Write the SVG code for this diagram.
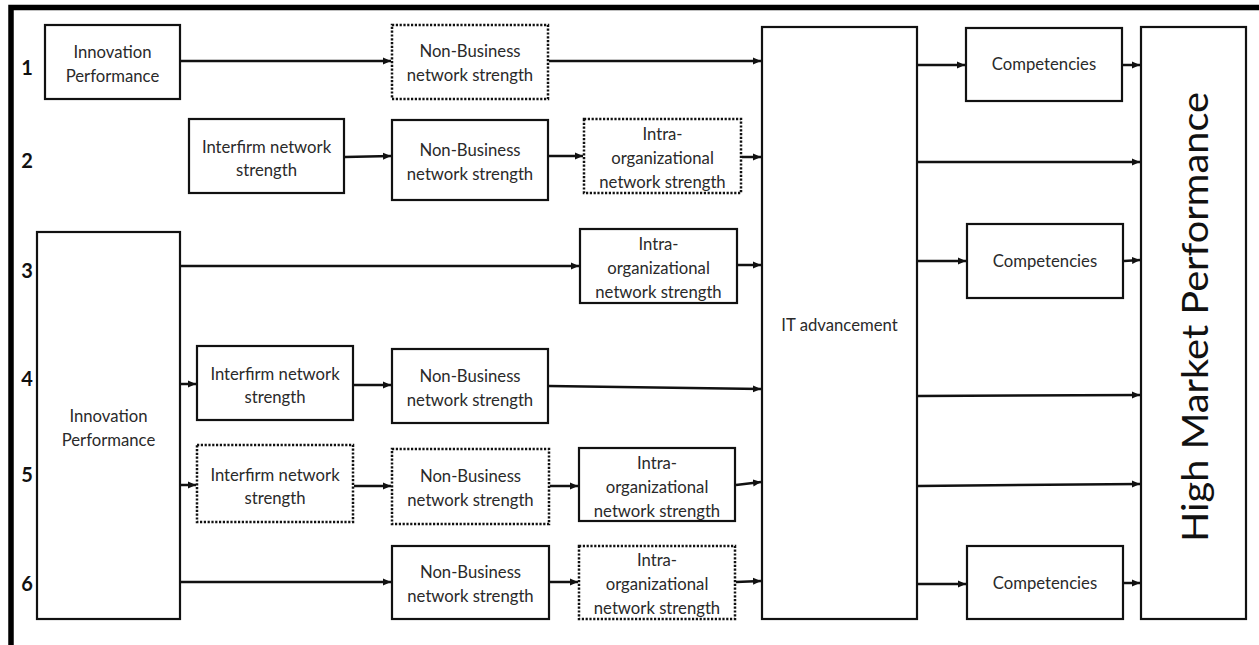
<svg xmlns="http://www.w3.org/2000/svg" width="1259" height="645" viewBox="0 0 1259 645">
<style>
  .box { fill: #ffffff; stroke: #111111; stroke-width: 2.2; }
  .dot { fill: #ffffff; stroke: #111111; stroke-width: 2.5; stroke-dasharray: 2.2 1.6; }
  .t { font-family: "Lato", "Liberation Sans", sans-serif; font-size: 16.7px; fill: #2a2a2a; text-anchor: middle; }
  .num { font-family: "Lato", "Liberation Sans", sans-serif; font-size: 20px; font-weight: bold; fill: #111111; text-anchor: middle; }
  .big { font-family: "Lato", "Liberation Sans", sans-serif; font-size: 36px; fill: #111111; text-anchor: middle; }
  .c line { stroke: #111111; stroke-width: 2.5; marker-end: url(#ah); }
</style>
<defs>
  <marker id="ah" markerUnits="userSpaceOnUse" markerWidth="9" markerHeight="8" refX="8" refY="4" orient="auto">
    <path d="M0,0.5 L8,4 L0,7.5 z" fill="#111111"/>
  </marker>
</defs>
<rect x="0" y="0" width="1259" height="645" fill="#ffffff"/>
<path d="M11,645 V7.5 H1259" fill="none" stroke="#000000" stroke-width="5.5"/>

<g id="row-labels">
  <text class="num" x="27" y="75">1</text>
  <text class="num" x="27" y="168">2</text>
  <text class="num" x="27" y="278">3</text>
  <text class="num" x="27" y="386">4</text>
  <text class="num" x="27" y="482">5</text>
  <text class="num" x="27" y="591">6</text>
</g>

<g id="innovation-1">
  <rect class="box" x="45" y="25" width="135" height="74"/>
  <text class="t" x="112.5" y="58">Innovation</text>
  <text class="t" x="112.5" y="82">Performance</text>
</g>
<g id="nonbusiness-1">
  <rect class="dot" x="392" y="25" width="156" height="74"/>
  <text class="t" x="470" y="57">Non-Business</text>
  <text class="t" x="470" y="81">network strength</text>
</g>
<g id="it-advancement">
  <rect class="box" x="762" y="27" width="155" height="592"/>
  <text class="t" x="839.5" y="331">IT advancement</text>
</g>
<g id="competencies-1">
  <rect class="box" x="966" y="28" width="156" height="73"/>
  <text class="t" x="1044" y="70">Competencies</text>
</g>
<g id="high-market-performance">
  <rect class="box" x="1141" y="27" width="105" height="592"/>
  <text class="big" transform="translate(1208,317) rotate(-90)" textLength="450" lengthAdjust="spacingAndGlyphs">High Market Performance</text>
</g>

<g id="interfirm-2">
  <rect class="box" x="189" y="119" width="155" height="74"/>
  <text class="t" x="266.5" y="153">Interfirm network</text>
  <text class="t" x="266.5" y="176">strength</text>
</g>
<g id="nonbusiness-2">
  <rect class="box" x="392" y="120" width="156" height="80"/>
  <text class="t" x="470" y="156">Non-Business</text>
  <text class="t" x="470" y="180">network strength</text>
</g>
<g id="intra-2">
  <rect class="dot" x="584" y="119" width="157" height="74"/>
  <text class="t" x="662.5" y="140">Intra-</text>
  <text class="t" x="662.5" y="164">organizational</text>
  <text class="t" x="662.5" y="188">network strength</text>
</g>

<g id="innovation-big">
  <rect class="box" x="37" y="232" width="143" height="387"/>
  <text class="t" x="108.5" y="422">Innovation</text>
  <text class="t" x="108.5" y="446">Performance</text>
</g>
<g id="intra-3">
  <rect class="box" x="580" y="229" width="157" height="74"/>
  <text class="t" x="658.5" y="250">Intra-</text>
  <text class="t" x="658.5" y="274">organizational</text>
  <text class="t" x="658.5" y="298">network strength</text>
</g>
<g id="competencies-2">
  <rect class="box" x="967" y="224" width="156" height="74"/>
  <text class="t" x="1045" y="267">Competencies</text>
</g>

<g id="interfirm-4">
  <rect class="box" x="197" y="346" width="156" height="74"/>
  <text class="t" x="275" y="380">Interfirm network</text>
  <text class="t" x="275" y="403">strength</text>
</g>
<g id="nonbusiness-4">
  <rect class="box" x="392" y="349" width="156" height="74"/>
  <text class="t" x="470" y="382">Non-Business</text>
  <text class="t" x="470" y="406">network strength</text>
</g>

<g id="interfirm-5">
  <rect class="dot" x="197" y="445" width="156" height="77"/>
  <text class="t" x="275" y="481">Interfirm network</text>
  <text class="t" x="275" y="504">strength</text>
</g>
<g id="nonbusiness-5">
  <rect class="dot" x="392" y="449" width="157" height="75"/>
  <text class="t" x="470.5" y="482">Non-Business</text>
  <text class="t" x="470.5" y="506">network strength</text>
</g>
<g id="intra-5">
  <rect class="box" x="579" y="448" width="156" height="73"/>
  <text class="t" x="657" y="469">Intra-</text>
  <text class="t" x="657" y="493">organizational</text>
  <text class="t" x="657" y="517">network strength</text>
</g>

<g id="nonbusiness-6">
  <rect class="box" x="392" y="546" width="157" height="73"/>
  <text class="t" x="470.5" y="578">Non-Business</text>
  <text class="t" x="470.5" y="602">network strength</text>
</g>
<g id="intra-6">
  <rect class="dot" x="579" y="546" width="156" height="73"/>
  <text class="t" x="657" y="566">Intra-</text>
  <text class="t" x="657" y="590">organizational</text>
  <text class="t" x="657" y="614">network strength</text>
</g>
<g id="competencies-3">
  <rect class="box" x="967" y="546" width="156" height="73"/>
  <text class="t" x="1045" y="589">Competencies</text>
</g>

<g id="connectors" class="c">
  <line x1="181" y1="61" x2="391" y2="61"/>
  <line x1="549" y1="61" x2="761" y2="61"/>
  <line x1="918" y1="65" x2="965" y2="65"/>
  <line x1="1123" y1="65" x2="1140" y2="65"/>
  <line x1="345" y1="157" x2="391" y2="156"/>
  <line x1="549" y1="156" x2="583" y2="156"/>
  <line x1="742" y1="157" x2="761" y2="157"/>
  <line x1="918" y1="162" x2="1140" y2="162"/>
  <line x1="181" y1="266" x2="579" y2="266"/>
  <line x1="738" y1="265" x2="761" y2="265"/>
  <line x1="918" y1="261" x2="966" y2="261"/>
  <line x1="1124" y1="261" x2="1140" y2="260"/>
  <line x1="181" y1="384" x2="196" y2="384"/>
  <line x1="354" y1="385" x2="391" y2="385"/>
  <line x1="549" y1="386" x2="761" y2="389"/>
  <line x1="918" y1="396" x2="1140" y2="395"/>
  <line x1="181" y1="485" x2="196" y2="485"/>
  <line x1="354" y1="486" x2="391" y2="486"/>
  <line x1="550" y1="486" x2="578" y2="486"/>
  <line x1="736" y1="485" x2="761" y2="482"/>
  <line x1="918" y1="486" x2="1140" y2="484"/>
  <line x1="181" y1="582" x2="391" y2="582"/>
  <line x1="550" y1="582" x2="578" y2="582"/>
  <line x1="736" y1="582" x2="761" y2="581"/>
  <line x1="918" y1="584" x2="966" y2="584"/>
  <line x1="1124" y1="583" x2="1140" y2="583"/>
</g>
</svg>
